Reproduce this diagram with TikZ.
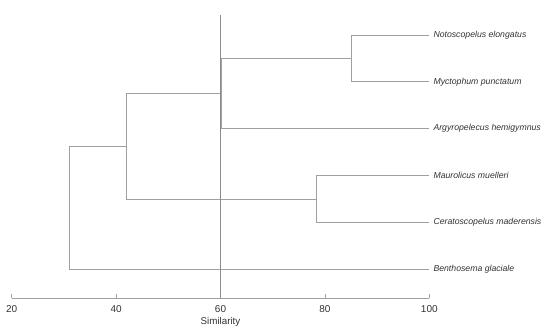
\documentclass[tikz,border=0pt]{standalone}
\usepackage{fontspec}
\setmainfont{Liberation Sans}
\usepackage{tikz}
\usetikzlibrary{positioning}

\definecolor{branchgray}{RGB}{160,160,160}
\definecolor{cutgray}{RGB}{140,140,140}
\definecolor{textgray}{RGB}{50,50,50}

\begin{document}
\begin{tikzpicture}[x=5.22pt, y=1pt,
    branch/.style={draw=branchgray, line width=0.8pt},
    leaf/.style={inner sep=0pt, anchor=west, text=textgray, font=\fontsize{8.7}{10}\selectfont\itshape},
    ticklab/.style={text=textgray, font=\fontsize{10}{12}\selectfont}]
    \useasboundingbox (17.76,0) rectangle (123.12,330);

    % Leaves (similarity 100)
    \coordinate (tNoto)  at (100,295);
    \coordinate (tMyct)  at (100,248.15);
    \coordinate (tArgy)  at (100,201.3);
    \coordinate (tMaur)  at (100,154.45);
    \coordinate (tCera)  at (100,107.6);
    \coordinate (tBenth) at (100,60.75);
    \node[leaf, right=4pt of tNoto]  (noto)  {Notoscopelus elongatus};
    \node[leaf, right=4pt of tMyct]  (myct)  {Myctophum punctatum};
    \node[leaf, right=4pt of tArgy]  (argy)  {Argyropelecus hemigymnus};
    \node[leaf, right=4pt of tMaur]  (maur)  {Maurolicus muelleri};
    \node[leaf, right=4pt of tCera]  (cera)  {Ceratoscopelus maderensis};
    \node[leaf, right=4pt of tBenth] (benth) {Benthosema glaciale};

    % Joins
    \coordinate (nNM)   at (85.1,271.6);
    \coordinate (nNMA)  at (60.2,236.45);
    \coordinate (nMC)   at (78.4,131.0);
    \coordinate (nMid)  at (41.9,183.7);
    \coordinate (nRoot) at (31.0,122.2);

    \draw[branch] (nNM) |- (tNoto);
    \draw[branch] (nNM) |- (tMyct);
    \draw[branch] (nNMA) |- (nNM);
    \draw[branch] (nNMA) |- (tArgy);
    \draw[branch] (nMC) |- (tMaur);
    \draw[branch] (nMC) |- (tCera);
    \draw[branch] (nMid) |- (nNMA);
    \draw[branch] (nMid) |- (nMC);
    \draw[branch] (nRoot) |- (nMid);
    \draw[branch] (nRoot) |- (tBenth);

    % Axis
    \coordinate (a0) at (20,31.7);
    \coordinate (a1) at (100,31.7);
    \draw[branch] (a0) -- (a1);
    \foreach \v in {20,40,...,100} {
        \draw[branch] (\v,31.7) -- (\v,36);
        \node[ticklab] (lab\v) at (\v,21) {\v};
    }
    \node[ticklab, font=\fontsize{9.8}{12}\selectfont] (simlab) at (60,8.3) {Similarity};

    % Cut line at 60
    \coordinate (cTop) at (60,315);
    \coordinate (cBot) at (60,31.7);
    \draw[branch, line width=0.6pt, draw=cutgray] (cTop) -- (cBot);
\end{tikzpicture}
\end{document}
